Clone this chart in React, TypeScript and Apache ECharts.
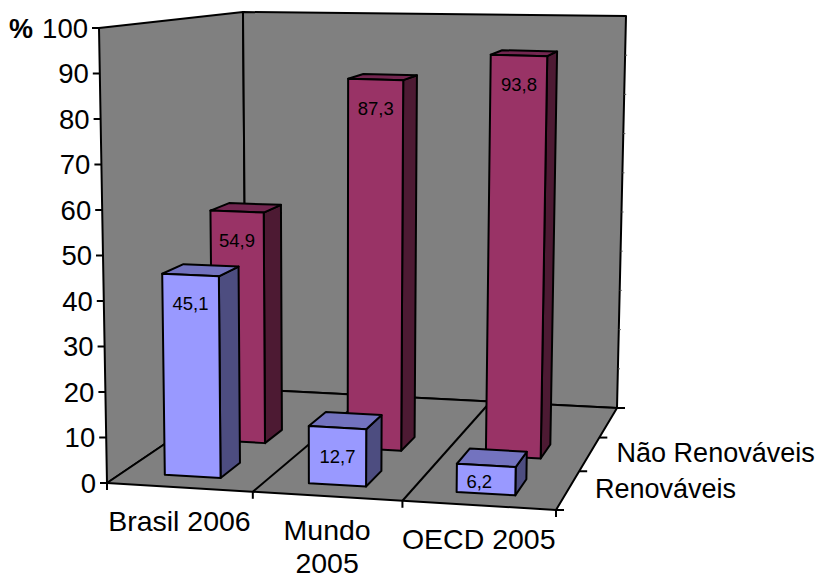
import React, { useEffect, useRef } from "react";
import * as echarts from "echarts";

// Energy matrix: share of renewable and non-renewable sources, in percent.
const categories = ["Brasil 2006", "Mundo\n2005", "OECD 2005"];
const renovaveis = [45.1, 12.7, 6.2];
const naoRenovaveis = [54.9, 87.3, 93.8];
const depthLabels = ["Renováveis", "Não Renováveis"];
const valueTicks = [0, 10, 20, 30, 40, 50, 60, 70, 80, 90, 100];

const WIDTH = 818;
const HEIGHT = 578;
const GRID = { left: 107, top: 28, width: 449, height: 455 };
const FONT = '"Liberation Sans", Arial, sans-serif';
const VALUE_SIZE = 27.5;
const LABEL_SIZE = 28.5;
const DEPTH_BANDS = 3;
const BAR_LOW = 0.295;
const BAR_HIGH = 0.685;
const DEPTH_LOW = 0.29;
const DEPTH_HIGH = 0.71;
const LINE = { stroke: "#000", lineWidth: 2 };

type Pt = [number, number];

// Maps the unit square onto a quadrilateral (perspective plane).
function planeMap(p0: Pt, p1: Pt, p2: Pt, p3: Pt) {
  const dx1 = p1[0] - p2[0], dx2 = p3[0] - p2[0], dx3 = p0[0] - p1[0] + p2[0] - p3[0];
  const dy1 = p1[1] - p2[1], dy2 = p3[1] - p2[1], dy3 = p0[1] - p1[1] + p2[1] - p3[1];
  const den = dx1 * dy2 - dx2 * dy1;
  const g = (dx3 * dy2 - dx2 * dy3) / den;
  const h = (dx1 * dy3 - dx3 * dy1) / den;
  const a = p1[0] - p0[0] + g * p1[0], b = p3[0] - p0[0] + h * p3[0];
  const d = p1[1] - p0[1] + g * p1[1], e = p3[1] - p0[1] + h * p3[1];
  return (u: number, z: number): Pt => {
    const w = g * u + h * z + 1;
    return [(a * u + b * z + p0[0]) / w, (d * u + e * z + p0[1]) / w];
  };
}

// Floor of the 3D box as seen by the camera.
const floorPlane = planeMap([107, 483], [556, 510], [617, 408], [246, 389]);

// Displacement of a full-height column above each floor corner:
// front-left, front-right, back-right, back-left.
const riseX = [-8, 8, 9, -3];
const riseY = [455, 467, 392, 377];
const corners = (c: number[], u: number, z: number) => {
  // Foreshortening makes heights shrink faster near the front of the box.
  const d = Math.pow(z, 0.85);
  return (c[0] * (1 - u) + c[1] * u) * (1 - d) + (c[3] * (1 - u) + c[2] * u) * d;
};

// u: along the categories, v: height, z: depth (all 0..1).
function project(u: number, v: number, z: number): Pt {
  const f = floorPlane(u, z);
  return [f[0] + corners(riseX, u, z) * v, f[1] - corners(riseY, u, z) * v];
}

const poly = (points: Pt[], fill: string) => ({
  type: "polygon",
  shape: { points },
  style: { fill, ...LINE, lineJoin: "round" },
});
const seg = (a: Pt, b: Pt, style: any = LINE) => ({
  type: "line",
  shape: { x1: a[0], y1: a[1], x2: b[0], y2: b[1] },
  style: { ...style, fill: "none" },
});

// Walls, floor, dividers and tick marks of the box.
function renderFrame(_: any, api: any) {
  const wall = "#808080";
  const children: any[] = [
    poly([project(0, 0, 0), project(0, 1, 0), project(0, 1, 1), project(0, 0, 1)], wall),
    poly([project(0, 0, 1), project(0, 1, 1), project(1, 1, 1), project(1, 0, 1)], wall),
    poly([project(0, 0, 0), project(1, 0, 0), project(1, 0, 1), project(0, 0, 1)], wall),
  ];
  categories.forEach((_c, i) => {
    const u = (i + 1) / categories.length;
    if (i + 1 < categories.length) children.push(seg(project(u, 0, 0), project(u, 0, 1)));
  });
  for (let i = 0; i <= categories.length; i++) {
    const p = project(i / categories.length, 0, 0);
    children.push(seg(p, [p[0], p[1] + 7]));
  }
  for (let i = 0; i <= DEPTH_BANDS; i++) {
    const p = project(1, 0, i / DEPTH_BANDS);
    children.push(seg(p, [p[0] + 8, p[1]]));
  }
  valueTicks.forEach((t) => {
    const py = api.coord([0, t])[1];
    const v = (GRID.top + GRID.height - py) / GRID.height;
    const p = project(0, v, 0);
    children.push(seg(p, [p[0] - 7, p[1]]));
    // Tiny marks on the far right edge of the back wall.
    const q = project(1, v, 1);
    if (t > 0 && t < 100) {
      children.push(seg(q, [q[0] + 2, q[1]], { stroke: "#555", lineWidth: 1 }));
    }
  });
  return { type: "group", children };
}

// One 3D column: category, value and depth band come from the data item.
function columnRenderer(front: string, side: string, top: string) {
  return (_: any, api: any) => {
    const value = api.value(1);
    const band = api.value(2);
    const c = api.coord([api.value(0), value]);
    const catWidth = api.size([1, 0])[0];
    const u0 = (c[0] - catWidth / 2 + catWidth * BAR_LOW - GRID.left) / GRID.width;
    const u1 = (c[0] - catWidth / 2 + catWidth * BAR_HIGH - GRID.left) / GRID.width;
    const v = (GRID.top + GRID.height - c[1]) / GRID.height;
    const z0 = (band + DEPTH_LOW) / DEPTH_BANDS;
    const z1 = (band + DEPTH_HIGH) / DEPTH_BANDS;
    const fb0 = project(u0, 0, z0), fb1 = project(u1, 0, z0);
    const ft0 = project(u0, v, z0), ft1 = project(u1, v, z0);
    const bb1 = project(u1, 0, z1);
    const bt0 = project(u0, v, z1), bt1 = project(u1, v, z1);
    const faceHeight = fb0[1] - ft0[1];
    return {
      type: "group",
      children: [
        poly([fb1, ft1, bt1, bb1], side),
        poly([ft0, ft1, bt1, bt0], top),
        poly([fb0, fb1, ft1, ft0], front),
        {
          type: "text",
          style: {
            text: String(value).replace(".", ","),
            // Short faces keep their label towards the left corner.
            x: (ft0[0] + ft1[0]) / 2 - (faceHeight < 40 ? 7 : 0),
            y: ft0[1] + Math.min(30, faceHeight * 0.64),
            align: "center",
            verticalAlign: "middle",
            fill: "#000",
            fontSize: 18.5,
            fontFamily: FONT,
          },
        },
      ],
    };
  };
}

// Category names follow the slanted front edge of the floor.
function renderCategoryLabel(_: any, api: any) {
  const i = api.value(0);
  const p = project((i + 0.5) / categories.length, 0, 0);
  return {
    type: "group",
    children: categories[i].split("\n").map((line, k) => ({
      type: "text",
      style: {
        text: line,
        x: p[0],
        y: p[1] + 34 + k * 33,
        align: "center",
        verticalAlign: "middle",
        fill: "#000",
        fontSize: LABEL_SIZE,
        fontFamily: FONT,
      },
    })),
  };
}

// Names of the depth bands, beside the right edge of the floor.
function renderDepthLabel(_: any, api: any) {
  const i = api.value(0);
  const p = project(1, 0, (i + 0.5) / DEPTH_BANDS);
  return {
    type: "text",
    style: {
      text: depthLabels[i],
      x: p[0] + 27,
      y: p[1] - 1,
      align: "left",
      verticalAlign: "middle",
      fill: "#000",
      fontSize: 27,
      fontFamily: FONT,
    },
  };
}

function column(name: string, values: number[], band: number, colors: [string, string, string]) {
  return {
    type: "custom",
    name,
    coordinateSystem: "cartesian2d",
    renderItem: columnRenderer(...colors),
    encode: { x: 0, y: 1 },
    data: values.map((v, i) => [i, v, band]),
    silent: true,
  };
}

const valueRich: Record<string, any> = {};
valueTicks.forEach((t) => {
  valueRich["t" + t] = {
    fontSize: VALUE_SIZE,
    fontFamily: FONT,
    color: "#000",
    padding: [0, (t / 100) * 8, 0, 0],
  };
});

export default function App() {
  const ref = useRef<HTMLDivElement>(null);
  useEffect(() => {
    const chart = echarts.init(ref.current!, undefined, { renderer: "svg" });
    chart.setOption({
      animation: false,
      backgroundColor: "#fff",
      grid: {
        left: GRID.left,
        top: GRID.top,
        width: GRID.width,
        height: GRID.height,
        containLabel: false,
      },
      xAxis: {
        type: "category",
        data: categories,
        axisLine: { show: false },
        axisTick: { show: false },
        splitLine: { show: false },
        axisLabel: { show: false },
      },
      yAxis: {
        type: "value",
        min: 0,
        max: 100,
        interval: 10,
        axisLine: { show: false },
        axisTick: { show: false },
        splitLine: { show: false },
        axisLabel: {
          margin: 11,
          formatter: (v: number) => `{t${v}|${v}}`,
          rich: valueRich,
        },
      },
      graphic: [
        {
          type: "text",
          style: {
            text: "%",
            x: 9,
            y: 29,
            verticalAlign: "middle",
            fill: "#000",
            fontSize: 27,
            fontWeight: "bold",
            fontFamily: FONT,
          },
        },
      ],
      series: [
        {
          type: "custom",
          coordinateSystem: "cartesian2d",
          renderItem: renderFrame,
          encode: { x: 0, y: 1 },
          data: [[0, 0]],
          silent: true,
        },
        column("Não Renováveis", naoRenovaveis, 1, ["#993366", "#4D1A33", "#732650"]),
        column("Renováveis", renovaveis, 0, ["#9999FF", "#4D4D80", "#7373BF"]),
        {
          type: "custom",
          coordinateSystem: "cartesian2d",
          renderItem: renderCategoryLabel,
          encode: { x: 0, y: 1 },
          data: categories.map((_, i) => [i, 0]),
          silent: true,
        },
        {
          type: "custom",
          coordinateSystem: "cartesian2d",
          renderItem: renderDepthLabel,
          encode: { x: 2, y: 1 },
          data: depthLabels.map((_, i) => [i, 0, 0]),
          silent: true,
        },
      ],
    });
    return () => chart.dispose();
  }, []);
  return (
    <div
      ref={ref}
      style={{ position: "absolute", left: 0, top: 0, width: WIDTH, height: HEIGHT }}
    />
  );
}
